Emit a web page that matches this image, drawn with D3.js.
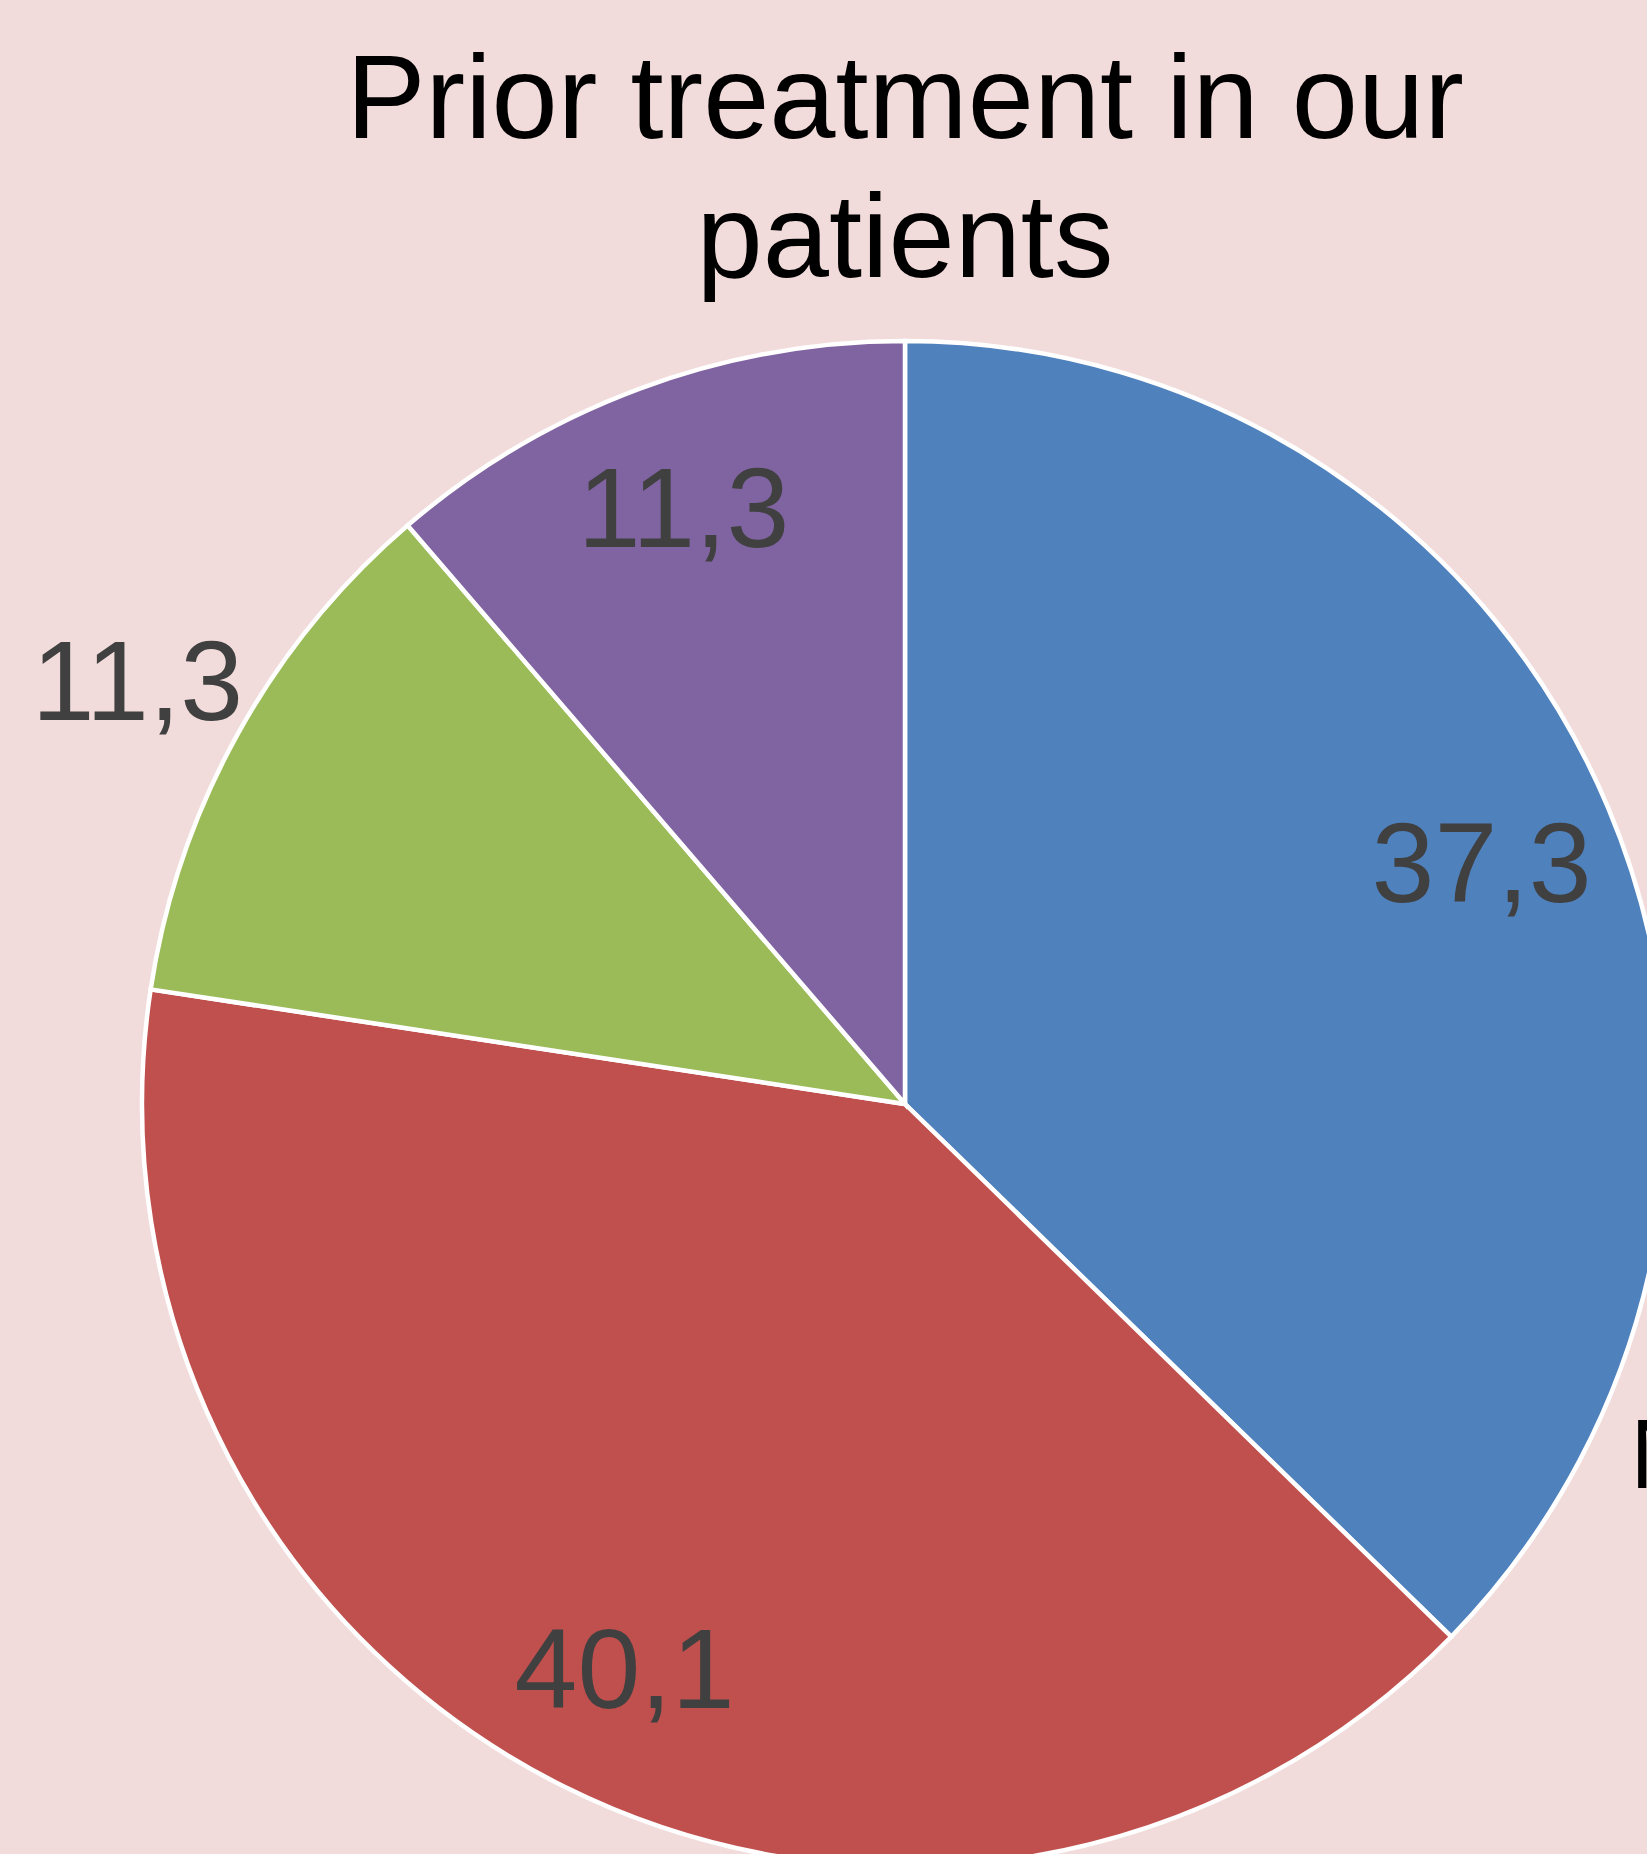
<!DOCTYPE html>
<html>
<head>
<meta charset="utf-8">
<script src="https://cdn.jsdelivr.net/npm/d3@7"></script>
<style>
  html, body { margin: 0; padding: 0; background: #F2DCDB; }
  svg { display: block; }
</style>
</head>
<body>
<script>
// ---- data ----
const categories = ["A", "B", "C", "D"];
const values = [37.3, 40.1, 11.3, 11.3];
const valueLabels = ["37,3", "40,1", "11,3", "11,3"];
const colors = ["#4F81BD", "#C0504D", "#9BBB59", "#8064A2"];
const titleLines = ["Prior treatment in our", "patients"];
const legendFirst = "None";

// ---- layout ----
const W = 1647, H = 1854;
const cx = 905, cy = 1104, R = 763;
const labelRadiusFactor = [0.82, 0.825, 1.15, 0.835];

const svg = d3.select("body").append("svg")
  .attr("width", W).attr("height", H);

svg.append("rect").attr("width", W).attr("height", H).attr("fill", "#F2DCDB");

const pie = d3.pie().sort(null).value(d => d)(values);
const arc = d3.arc().innerRadius(0).outerRadius(R);

const g = svg.append("g").attr("transform", `translate(${cx},${cy})`);

g.selectAll("path.slice")
  .data(pie)
  .join("path")
  .attr("class", "slice")
  .attr("d", arc)
  .attr("fill", (d, i) => colors[i])
  .attr("stroke", "#FFFFFF")
  .attr("stroke-width", 4.5)
  .attr("stroke-linejoin", "miter");

g.selectAll("text.lbl")
  .data(pie)
  .join("text")
  .attr("class", "lbl")
  .attr("transform", (d, i) => {
    const a = (d.startAngle + d.endAngle) / 2;
    const r = R * labelRadiusFactor[i];
    return `translate(${Math.sin(a) * r},${-Math.cos(a) * r})`;
  })
  .attr("text-anchor", "middle")
  .attr("dy", "0.36em")
  .attr("font-family", "'Liberation Sans', Arial, sans-serif")
  .attr("font-size", 113)
  .attr("fill", "#404040")
  .text((d, i) => valueLabels[i]);

// title
svg.selectAll("text.title")
  .data(titleLines)
  .join("text")
  .attr("class", "title")
  .attr("x", cx)
  .attr("y", (d, i) => 138 + i * 139)
  .attr("text-anchor", "middle")
  .attr("font-family", "'Liberation Sans', Arial, sans-serif")
  .attr("font-size", 119)
  .attr("fill", "#000000")
  .text(d => d);

// legend (cut off at right edge, as in the reference)
svg.append("text")
  .attr("x", 1630)
  .attr("y", 1488)
  .attr("font-family", "'Liberation Sans', Arial, sans-serif")
  .attr("font-size", 99)
  .attr("fill", "#000000")
  .text(legendFirst);
</script>
</body>
</html>
